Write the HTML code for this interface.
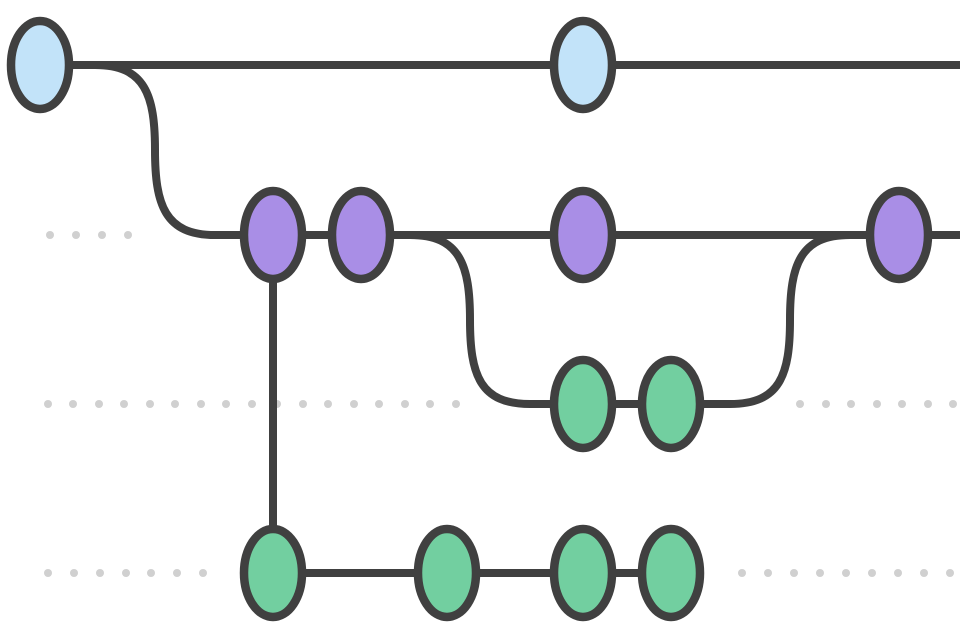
<!DOCTYPE html>
<html><head><meta charset="utf-8"><style>html,body{margin:0;padding:0;background:#fff}svg{display:block}</style></head>
<body>
<svg width="960" height="640" viewBox="0 0 960 640" xmlns="http://www.w3.org/2000/svg">
<g fill="#d0d0d0">
<circle cx="50" cy="235" r="4"/><circle cx="76" cy="235" r="4"/><circle cx="102" cy="235" r="4"/><circle cx="128" cy="235" r="4"/>
<circle cx="48" cy="404" r="4"/><circle cx="73" cy="404" r="4"/><circle cx="99" cy="404" r="4"/><circle cx="124" cy="404" r="4"/><circle cx="150" cy="404" r="4"/><circle cx="175" cy="404" r="4"/><circle cx="201" cy="404" r="4"/><circle cx="226" cy="404" r="4"/><circle cx="252" cy="404" r="4"/><circle cx="277" cy="404" r="4"/><circle cx="303" cy="404" r="4"/><circle cx="328" cy="404" r="4"/><circle cx="354" cy="404" r="4"/><circle cx="379" cy="404" r="4"/><circle cx="405" cy="404" r="4"/><circle cx="430" cy="404" r="4"/><circle cx="456" cy="404" r="4"/>
<circle cx="800" cy="404" r="4"/><circle cx="826" cy="404" r="4"/><circle cx="851" cy="404" r="4"/><circle cx="877" cy="404" r="4"/><circle cx="902" cy="404" r="4"/><circle cx="928" cy="404" r="4"/><circle cx="953" cy="404" r="4"/>
<circle cx="48" cy="573" r="4"/><circle cx="74" cy="573" r="4"/><circle cx="100" cy="573" r="4"/><circle cx="126" cy="573" r="4"/><circle cx="151" cy="573" r="4"/><circle cx="177" cy="573" r="4"/><circle cx="203" cy="573" r="4"/>
<circle cx="742" cy="573" r="4"/><circle cx="768" cy="573" r="4"/><circle cx="794" cy="573" r="4"/><circle cx="820" cy="573" r="4"/><circle cx="846" cy="573" r="4"/><circle cx="872" cy="573" r="4"/><circle cx="898" cy="573" r="4"/><circle cx="924" cy="573" r="4"/><circle cx="950" cy="573" r="4"/>
</g>
<g fill="none" stroke="#404040" stroke-width="8">
<path d="M40 65 H960"/>
<path d="M70 65 H95 C145 65 155 95 155 150 C155 205 165 235 215 235 H960"/>
<path d="M400 235 H410 C460 235 470 265 470 320 C470 375 480 404 530 404 H730 C780 404 790 375 790 320 C790 265 800 235 850 235"/>
<path d="M273 235 V573 H671"/>
</g>
<g stroke="#404040" stroke-width="8.5">
<ellipse cx="40" cy="65" rx="29" ry="44" fill="#c2e3f9"/>
<ellipse cx="583" cy="65" rx="29" ry="44" fill="#c2e3f9"/>
<ellipse cx="273" cy="235" rx="29" ry="44" fill="#a98ee6"/>
<ellipse cx="361" cy="235" rx="29" ry="44" fill="#a98ee6"/>
<ellipse cx="583" cy="235" rx="29" ry="44" fill="#a98ee6"/>
<ellipse cx="899" cy="235" rx="29" ry="44" fill="#a98ee6"/>
<ellipse cx="583" cy="404" rx="29" ry="44" fill="#72cfa0"/>
<ellipse cx="671" cy="404" rx="29" ry="44" fill="#72cfa0"/>
<ellipse cx="273" cy="573" rx="29" ry="44" fill="#72cfa0"/>
<ellipse cx="447" cy="573" rx="29" ry="44" fill="#72cfa0"/>
<ellipse cx="583" cy="573" rx="29" ry="44" fill="#72cfa0"/>
<ellipse cx="671" cy="573" rx="29" ry="44" fill="#72cfa0"/>
</g>
</svg>
</body></html>
